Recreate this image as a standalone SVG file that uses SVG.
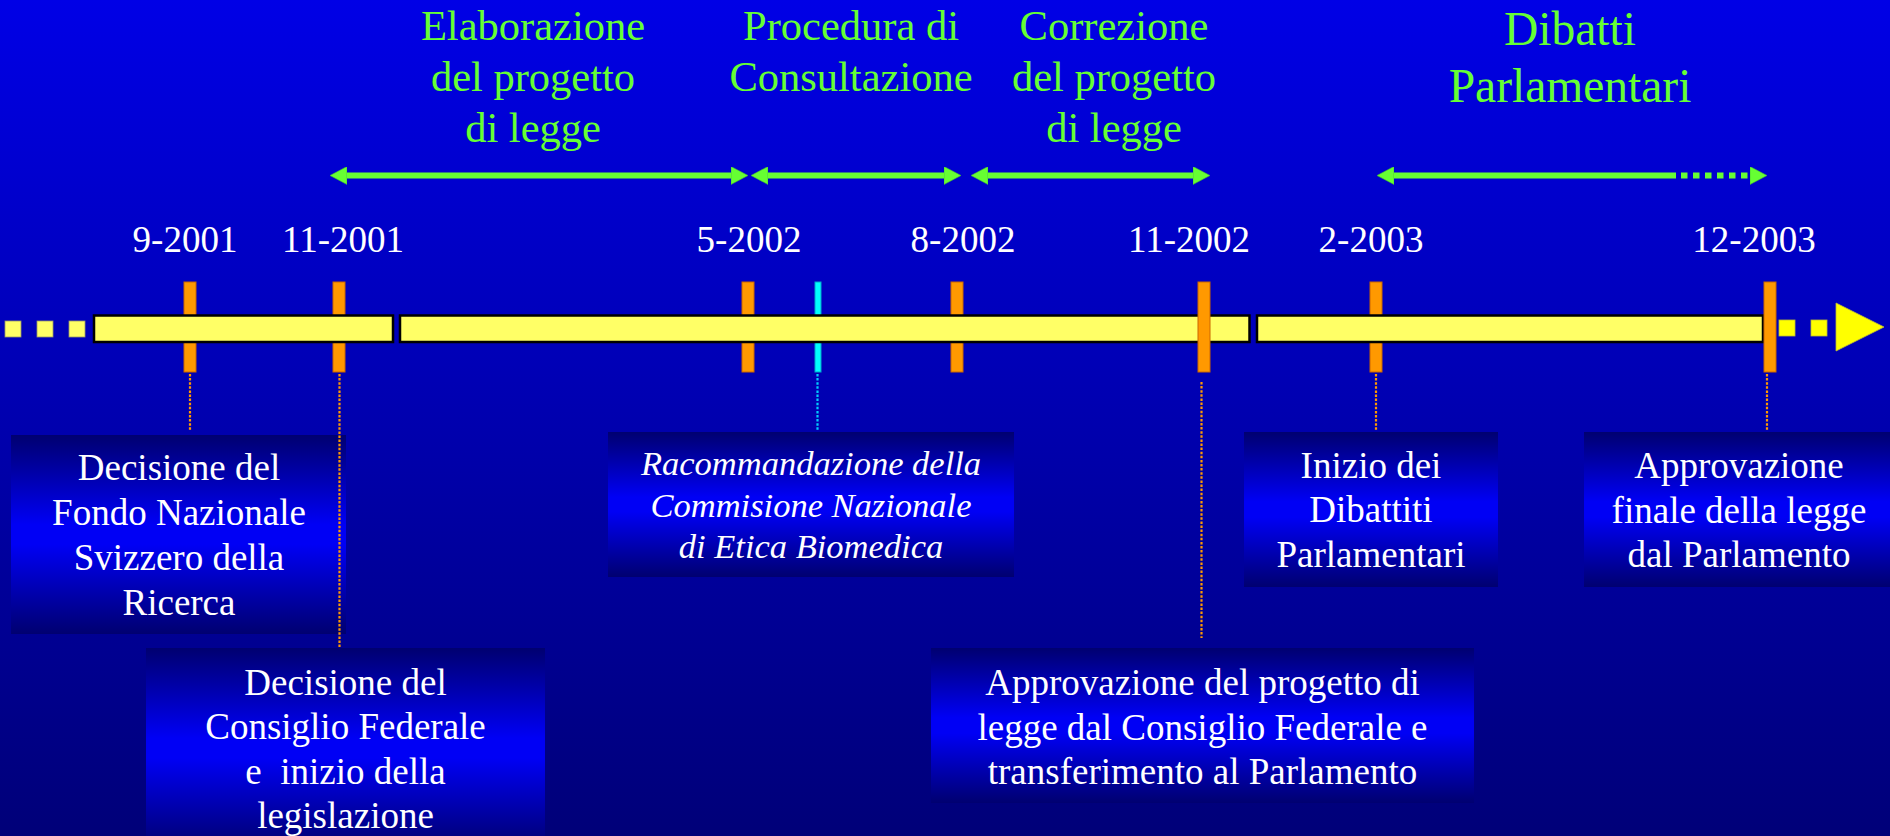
<svg xmlns="http://www.w3.org/2000/svg" width="1890" height="836" viewBox="0 0 1890 836">
<defs>
<linearGradient id="bg" x1="0" y1="0" x2="0" y2="1">
<stop offset="0" stop-color="#0000E6"/>
<stop offset="1" stop-color="#000078"/>
</linearGradient>
<linearGradient id="box" x1="0" y1="0" x2="0" y2="1">
<stop offset="0" stop-color="#000070"/>
<stop offset="0.45" stop-color="#0000F5"/>
<stop offset="0.55" stop-color="#0000F5"/>
<stop offset="1" stop-color="#000070"/>
</linearGradient>
<marker id="ah" viewBox="0 -9 17 18" refX="0" refY="0" markerWidth="17" markerHeight="18" markerUnits="userSpaceOnUse" orient="auto-start-reverse">
<path d="M0,-9 L17,0 L0,9 z" fill="#66FF33" stroke="#44BB33" stroke-width="0.6"/>
</marker>
<style>
.date{font-family:"Liberation Serif","Times New Roman",serif;font-size:37px;fill:#FFFFFF;text-anchor:middle}
.head{font-family:"Liberation Serif","Times New Roman",serif;font-size:42.5px;fill:#66FF33;text-anchor:middle}
.head2{font-family:"Liberation Serif","Times New Roman",serif;font-size:47.5px;fill:#66FF33;text-anchor:middle}
.btxt{font-family:"Liberation Serif","Times New Roman",serif;font-size:37px;fill:#FFFFFF;text-anchor:middle}
.itxt{font-family:"Liberation Serif","Times New Roman",serif;font-size:34.5px;font-style:italic;fill:#FFFFFF;text-anchor:middle}
.boxr{fill:url(#box)}
.arr{stroke:#66FF33;stroke-width:6;fill:none}
.bar{fill:#FFFF66;stroke:#000000;stroke-width:2.5}
.tick{fill:#FF9900;stroke:#CC6600;stroke-width:1}
.ctick{fill:#00FFFF;stroke:#00AACC;stroke-width:1}
.sq{fill:#FFFF66;stroke:#999966;stroke-width:0.8}
.sq2{fill:#FFFF00;stroke:#BBBB33;stroke-width:0.8}
.dot{stroke:#FF9900;stroke-width:2.2;stroke-dasharray:2.5 1.6;fill:none}
.cdot{stroke:#00CCFF;stroke-width:2.2;stroke-dasharray:2.5 1.6;fill:none}
</style>
</defs>
<rect x="0" y="0" width="1890" height="836" fill="url(#bg)"/>

<g id="phases">
<text class="head"><tspan x="533" y="40">Elaborazione</tspan><tspan x="533" y="91">del progetto</tspan><tspan x="533" y="142">di legge</tspan></text>
<text class="head"><tspan x="851" y="40">Procedura di</tspan><tspan x="851" y="91">Consultazione</tspan></text>
<text class="head"><tspan x="1114" y="40">Correzione</tspan><tspan x="1114" y="91">del progetto</tspan><tspan x="1114" y="142">di legge</tspan></text>
<text class="head2"><tspan x="1570" y="45">Dibatti</tspan><tspan x="1570" y="102">Parlamentari</tspan></text>
</g>

<g id="phase-arrows">
<line class="arr" x1="347" y1="175.5" x2="731" y2="175.5" marker-start="url(#ah)" marker-end="url(#ah)"/>
<line class="arr" x1="768" y1="175.5" x2="944" y2="175.5" marker-start="url(#ah)" marker-end="url(#ah)"/>
<line class="arr" x1="988" y1="175.5" x2="1193" y2="175.5" marker-start="url(#ah)" marker-end="url(#ah)"/>
<line class="arr" x1="1394" y1="175.5" x2="1676" y2="175.5" marker-start="url(#ah)"/>
<line class="arr" x1="1681" y1="175.5" x2="1750" y2="175.5" stroke-dasharray="6.5 5.5" marker-end="url(#ah)"/>
</g>

<g id="dates">
<text class="date" x="185" y="252">9-2001</text>
<text class="date" x="343" y="252">11-2001</text>
<text class="date" x="749" y="252">5-2002</text>
<text class="date" x="963" y="252">8-2002</text>
<text class="date" x="1189" y="252">11-2002</text>
<text class="date" x="1371" y="252">2-2003</text>
<text class="date" x="1754" y="252">12-2003</text>
</g>

<g id="timeline">
<rect class="sq" x="5" y="321" width="16" height="16"/>
<rect class="sq" x="37" y="321" width="16" height="16"/>
<rect class="sq" x="69" y="321" width="16" height="16"/>
<rect class="tick" x="184" y="282" width="12" height="90"/>
<rect class="tick" x="333" y="282" width="12" height="90"/>
<rect class="tick" x="742" y="282" width="12" height="90"/>
<rect class="ctick" x="815" y="282" width="6" height="90"/>
<rect class="tick" x="951" y="282" width="12" height="90"/>
<rect class="tick" x="1370" y="282" width="12" height="90"/>
<rect class="bar" x="94" y="315.5" width="299" height="26.5"/>
<rect class="bar" x="400" y="315.5" width="849.5" height="26.5"/>
<rect class="bar" x="1257" y="315.5" width="506" height="26.5"/>
<rect class="tick" x="1198" y="282" width="12" height="90"/>
<rect class="tick" x="1764" y="282" width="12" height="90"/>
<rect class="sq2" x="1779" y="320" width="16" height="16"/>
<rect class="sq2" x="1811" y="320" width="16" height="16"/>
<polygon points="1836,303 1884,327 1836,351" fill="#FFFF00" stroke="#BBBB33" stroke-width="0.8"/>
</g>

<g id="box-fondo">
<rect class="boxr" x="11" y="435" width="335" height="199"/>
<text class="btxt"><tspan x="179" y="480">Decisione del</tspan><tspan x="179" y="525">Fondo Nazionale</tspan><tspan x="179" y="570">Svizzero della</tspan><tspan x="179" y="615">Ricerca</tspan></text>
</g>

<g id="box-consiglio">
<rect class="boxr" x="146" y="648" width="399" height="200"/>
<text class="btxt"><tspan x="345.5" y="695">Decisione del</tspan><tspan x="345.5" y="739">Consiglio Federale</tspan><tspan x="345.5" y="784" xml:space="preserve">e  inizio della</tspan><tspan x="345.5" y="828">legislazione</tspan></text>
</g>

<g id="box-commissione">
<rect class="boxr" x="608" y="432" width="406" height="145"/>
<text class="itxt"><tspan x="811" y="475">Racommandazione della</tspan><tspan x="811" y="517">Commisione Nazionale</tspan><tspan x="811" y="558">di Etica Biomedica</tspan></text>
</g>

<g id="box-approvazione-progetto">
<rect class="boxr" x="931" y="648" width="543" height="155"/>
<text class="btxt"><tspan x="1202.5" y="695">Approvazione del progetto di</tspan><tspan x="1202.5" y="740">legge dal Consiglio Federale e</tspan><tspan x="1202.5" y="784">transferimento al Parlamento</tspan></text>
</g>

<g id="box-inizio">
<rect class="boxr" x="1244" y="432" width="254" height="155"/>
<text class="btxt"><tspan x="1371" y="478">Inizio dei</tspan><tspan x="1371" y="522">Dibattiti</tspan><tspan x="1371" y="567">Parlamentari</tspan></text>
</g>

<g id="box-approvazione-finale">
<rect class="boxr" x="1584" y="432" width="310" height="155"/>
<text class="btxt"><tspan x="1739" y="478">Approvazione</tspan><tspan x="1739" y="523">finale della legge</tspan><tspan x="1739" y="567">dal Parlamento</tspan></text>
</g>

<g id="connectors">
<line class="dot" x1="190" y1="374" x2="190" y2="431"/>
<line class="dot" x1="339.5" y1="374" x2="339.5" y2="648"/>
<line class="cdot" x1="817.5" y1="374" x2="817.5" y2="430"/>
<line class="dot" x1="1201.5" y1="382" x2="1201.5" y2="638"/>
<line class="dot" x1="1376" y1="374" x2="1376" y2="430"/>
<line class="dot" x1="1767" y1="374" x2="1767" y2="430"/>
</g>
</svg>
